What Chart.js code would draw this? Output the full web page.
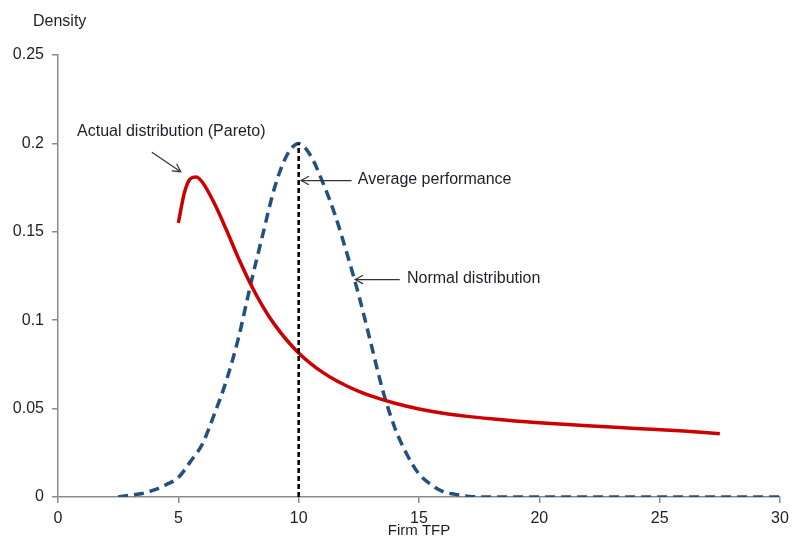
<!DOCTYPE html>
<html>
<head>
<meta charset="utf-8">
<script src="https://cdn.jsdelivr.net/npm/chart.js@4.4.1/dist/chart.umd.min.js"></script>
<style>
html,body{margin:0;padding:0;background:#fff;}
#wrap{width:792px;height:540px;position:relative;}
</style>
</head>
<body>
<div id="wrap"><canvas id="c" width="792" height="540"></canvas></div>
<script>
// ---- data ----
const normalX = [2.5,3,3.5,4,4.5,5,5.5,6,6.5,7,7.5,8,8.5,9,9.5,10,10.5,11,11.5,12,12.5,13,13.5,14,14.5,15,15.5,16,16.5,17,17.5,18,20,22,24,26,28,30];
const normalY = [0,0.001,0.002,0.004,0.007,0.011,0.02,0.03,0.047,0.066,0.09,0.12,0.148,0.175,0.193,0.2,0.193,0.178,0.16,0.138,0.114,0.087,0.06,0.039,0.024,0.013,0.007,0.003,0.0015,0.0005,0,0,0,0,0,0,0,0];
const paretoX = [5,5.25,5.5,5.75,6,6.5,7,7.5,8,8.5,9,9.5,10,10.5,11,11.5,12,12.5,13,14,15,16,17,18,19,20,22,24,26,27.5];
const paretoY = [0.155,0.172,0.180,0.181,0.178,0.166,0.151,0.135,0.1205,0.108,0.0975,0.0888,0.0815,0.0755,0.0705,0.0663,0.0628,0.0598,0.0572,0.0530,0.0498,0.0474,0.0456,0.0442,0.0430,0.0420,0.0403,0.0388,0.0373,0.0358];
const averageX = [10,10];
const averageY = [0,0.2];
const yTickValues = [0,0.05,0.1,0.15,0.2,0.25];
const yTickLabels = ["0","0.05","0.1","0.15","0.2","0.25"];
const xTickLabels = ["0","5","10","15","20","25","30"];
const annotations = [
  {text:"Actual distribution (Pareto)", x:0.79, y:0.2065, fromX:3.9, fromY:0.195, toX:5.1, toY:0.184},
  {text:"Average performance", x:12.46, y:0.1793, fromX:12.2, fromY:0.179, toX:10.1, toY:0.179},
  {text:"Normal distribution", x:14.5, y:0.1235, fromX:14.2, fromY:0.123, toX:12.35, toY:0.123}
];

const toPts = (xs, ys) => xs.map((x,i)=>({x:x, y:ys[i]}));
const FONT = '"Liberation Sans", Arial, sans-serif';
const TXT = '#1e1e2a';

const annoPlugin = {
  id:'anno',
  afterDatasetsDraw(chart){
    const ctx = chart.ctx, xs = chart.scales.x, ys = chart.scales.y;
    ctx.save();
    ctx.font = '16px ' + FONT;
    ctx.fillStyle = TXT;
    ctx.textBaseline = 'middle';
    ctx.textAlign = 'left';
    annotations.forEach(a=>{
      ctx.fillText(a.text, xs.getPixelForValue(a.x), ys.getPixelForValue(a.y));
      const x1 = xs.getPixelForValue(a.fromX), y1 = ys.getPixelForValue(a.fromY);
      const x2 = xs.getPixelForValue(a.toX), y2 = ys.getPixelForValue(a.toY);
      ctx.strokeStyle = '#333';
      ctx.lineWidth = 1.2;
      ctx.beginPath(); ctx.moveTo(x1,y1); ctx.lineTo(x2,y2); ctx.stroke();
      const ang = Math.atan2(y2-y1, x2-x1), L = 9, w = 0.5;
      ctx.beginPath();
      ctx.moveTo(x2 - L*Math.cos(ang-w), y2 - L*Math.sin(ang-w));
      ctx.lineTo(x2,y2);
      ctx.lineTo(x2 - L*Math.cos(ang+w), y2 - L*Math.sin(ang+w));
      ctx.stroke();
    });
    ctx.fillText('Density', 33, 22);
    ctx.restore();
  }
};

new Chart(document.getElementById('c'), {
  type:'scatter',
  data:{
    datasets:[
      {label:'Normal distribution', data:toPts(normalX, normalY), showLine:true, borderColor:'#24507f', borderWidth:3.5, borderDash:[10,6], pointRadius:0, cubicInterpolationMode:'monotone', fill:false, order:2},
      {label:'Actual distribution (Pareto)', data:toPts(paretoX, paretoY), showLine:true, borderColor:'#cc0000', borderWidth:3.5, pointRadius:0, cubicInterpolationMode:'monotone', fill:false, order:1},
      {label:'Average performance', data:toPts(averageX, averageY), showLine:true, borderColor:'#000', borderWidth:2.5, borderDash:[5,3], pointRadius:0, fill:false, order:0}
    ]
  },
  options:{
    responsive:false,
    animation:false,
    layout:{padding:{left:0, right:12, top:55, bottom:0}},
    plugins:{legend:{display:false}, tooltip:{enabled:false}},
    scales:{
      x:{
        type:'linear', min:0, max:30,
        afterFit(s){ s.height = 43; s.paddingRight = 0; s.paddingLeft = 0; },
        border:{color:'#8a8a8a', width:1.5},
        grid:{drawOnChartArea:false, drawTicks:true, tickLength:6, color:'#8a8a8a', lineWidth:1.5},
        ticks:{stepSize:5, padding:6, color:TXT, font:{family:FONT, size:16},
          callback:(v)=>{ const i = v/5; return Number.isInteger(i) ? xTickLabels[i] : ''; }},
        title:{display:true, text:'Firm TFP', color:TXT, font:{family:FONT, size:15}, padding:{top:0,bottom:0}}
      },
      y:{
        type:'linear', min:0, max:0.25,
        afterFit(s){ s.width = 58; },
        afterBuildTicks(s){ s.ticks = yTickValues.map(v=>({value:v})); },
        border:{color:'#8a8a8a', width:1.5},
        grid:{drawOnChartArea:false, drawTicks:true, tickLength:6, color:'#8a8a8a', lineWidth:1.5},
        ticks:{padding:8, color:TXT, font:{family:FONT, size:16},
          callback:(v)=>{ const i = yTickValues.findIndex(t=>Math.abs(t-v)<1e-9); return i>=0 ? yTickLabels[i] : ''; }}
      }
    }
  },
  plugins:[annoPlugin]
});
</script>
</body>
</html>
